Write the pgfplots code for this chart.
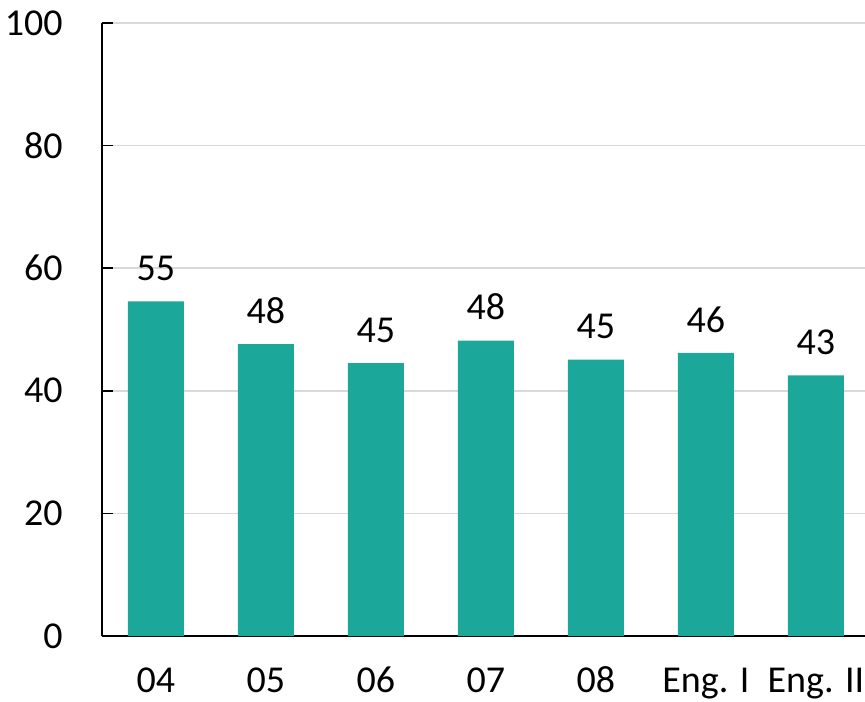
\documentclass[border=0pt]{standalone}
\usepackage{pgfplots}
\pgfplotsset{compat=1.18}
\usetikzlibrary{calc}
\usepackage{fontspec}
\setmainfont{Carlito}
\definecolor{barteal}{HTML}{1BA89B}
\definecolor{gridgray}{HTML}{D9D9D9}
\begin{document}
\begin{tikzpicture}
\begin{axis}[
  scale only axis,
  width=381.5pt, height=306.5pt,
  ymin=0, ymax=100,
  ytick={0,20,40,60,80,100},
  xmin=-0.49, xmax=6.446,
  xtick={0,...,6},
  xticklabels={04,05,06,07,08,Eng. I,Eng. II},
  axis x line*=bottom,
  axis y line*=left,
  axis line style={black, line width=1pt},
  ymajorgrids,
  major grid style={gridgray, line width=0.9pt},
  ytick pos=left,
  tick align=inside,
  major tick length=5.5pt,
  ytick style={black, line width=0.8pt},
  xtick style={draw=none},
  tick label style={font=\fontsize{19}{22}\selectfont, text=black},
  /pgf/number format/assume math mode=true,
  yticklabel style={anchor=east, inner sep=0pt, xshift=-19.5pt},
  xticklabel style={anchor=base, inner sep=0pt, yshift=-28pt},
  clip=false,
]
\addplot[ybar, bar width=28pt, fill=barteal, draw=none,
  nodes near coords,
  nodes near coords style={font=\fontsize{19}{22}\selectfont, text=black, anchor=south, inner sep=0pt, yshift=10pt},
  point meta=explicit symbolic]
  coordinates {(0,54.6)[55] (1,47.6)[48] (2,44.5)[45] (3,48.2)[48] (4,45.1)[45] (5,46.2)[46] (6,42.5)[43]};
\coordinate (sw) at (rel axis cs:0,0);
\end{axis}
\pgfresetboundingbox
\path ($(sw)+(-51pt,-32.5pt)$) rectangle ($(sw)+(381.5pt,318pt)$);
\end{tikzpicture}
\end{document}
